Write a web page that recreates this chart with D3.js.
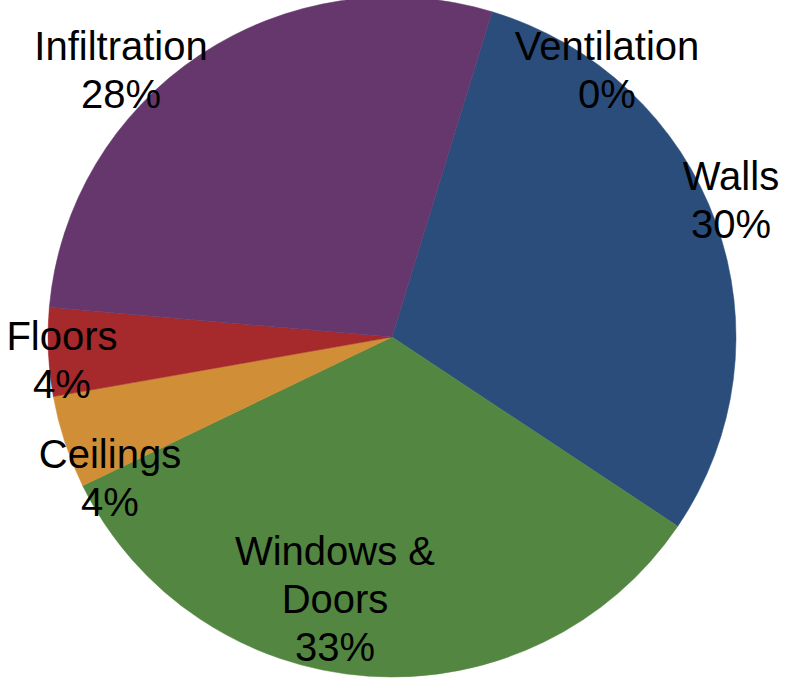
<!DOCTYPE html>
<html>
<head>
<meta charset="utf-8">
<script src="https://cdn.jsdelivr.net/npm/d3@7"></script>
<style>
  html, body { margin: 0; padding: 0; background: #fff; }
  svg { display: block; }
</style>
</head>
<body>
<svg id="chart" width="795" height="684"></svg>
<script>
// ---- data ----
const categories = ["Ventilation", "Walls", "Windows & Doors", "Ceilings", "Floors", "Infiltration"];
const values = [0, 29.7, 33.4, 4.4, 4.2, 28.3];
const colors = ["#31859C", "#2A4D7C", "#538640", "#D08E36", "#A6292C", "#65376C"];
// label line breaks
const labelLines = [["Ventilation"], ["Walls"], ["Windows &", "Doors"], ["Ceilings"], ["Floors"], ["Infiltration"]];
// label layout (x centre, first baseline)
const labelLayout = [[607, 60], [731, 190], [335, 565], [110, 468], [62, 350], [121, 60]];

// ---- chart ----
const cx = 392, cy = 337, rx = 344, ry = 340;
const svg = d3.select("#chart");

const data = categories.map((c, i) => ({ name: c, value: values[i], color: colors[i], lines: labelLines[i], pos: labelLayout[i] }));
const total = d3.sum(values);

const start = 16.9 * Math.PI / 180;
const pie = d3.pie()
  .value(d => d.value)
  .sort(null)
  .startAngle(start)
  .endAngle(start + 2 * Math.PI);

const arc = d3.arc().innerRadius(0).outerRadius(rx);

const g = svg.append("g").attr("transform", `translate(${cx},${cy}) scale(1,${ry / rx})`);
g.selectAll("path")
  .data(pie(data).filter(d => d.value > 0))
  .join("path")
  .attr("d", arc)
  .attr("fill", d => d.data.color)
  .attr("stroke", d => d.data.color)
  .attr("stroke-width", 0.5);

const fmt = v => Math.round(v / total * 100) + "%";
const labels = svg.append("g")
  .attr("font-family", "'Liberation Sans', Arial, sans-serif")
  .attr("font-size", 40)
  .attr("fill", "#000")
  .attr("text-anchor", "middle");

data.forEach(d => {
  const t = labels.append("text").attr("x", d.pos[0]).attr("y", d.pos[1]);
  const lines = d.lines.concat([fmt(d.value)]);
  lines.forEach((ln, i) => {
    t.append("tspan").attr("x", d.pos[0]).attr("dy", i === 0 ? 0 : 48).text(ln);
  });
});
</script>
</body>
</html>
